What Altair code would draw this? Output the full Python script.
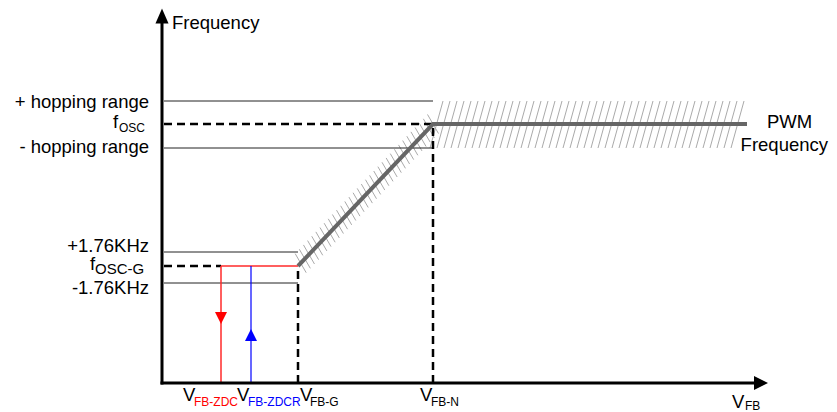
import altair as alt
import pandas as pd
import numpy as np

# ---------------- diagram values (origin = corner of the two axes) ----------------
# V_FB positions (horizontal axis)
v_fb_zdc = 59
v_fb_zdcr = 89
v_fb_g = 136
v_fb_n = 271
v_pwm_end = 585
v_axis_end = 599          # centre of the x-axis arrow head

# Frequency levels (vertical axis)
f_hop_plus = 282
f_osc = 259
f_hop_minus = 235
f_g_plus = 131
f_osc_g = 117
f_g_minus = 100
f_axis_end = 367          # centre of the y-axis arrow head

# direction arrows on the red / blue lines
red_arrow_f = 65
blue_arrow_f = 48

# main labels
main_text = ["Frequency", "+ hopping range", "- hopping range", "+1.76KHz", "-1.76KHz",
             "f", "f", "PWM", "Frequency",
             "V", "V", "V", "V", "V"]
main_x = [10, -13, -13, -13, -13, -49, -72, 605, 666, 21, 75, 138, 258, 570]
main_y = [360, 281, 236, 137, 95, 261, 119, 261, 238, -12, -12, -12, -12, -19]
main_align = ["left", "right", "right", "right", "right", "left", "left", "left", "right",
              "left", "left", "left", "left", "left"]
main_color = ["#000000"] * 14

# subscripts
sub_text = ["OSC", "OSC-G", "FB-ZDC", "FB-ZDCR", "FB-G", "FB-N", "FB"]
sub_x = [-43, -67, 32, 86, 148, 269, 583]
sub_y = [255, 114, -19, -19, -19, -19, -23]
sub_size = [12, 15, 12, 12, 12, 12, 12]
sub_color = ["#000000", "#000000", "#ff0000", "#0000ff", "#000000", "#000000", "#000000"]

# ---------------- scales: 1 unit = 1 px ----------------
W, H = 821, 404
xs = alt.Scale(domain=[-154, 667], nice=False, zero=False)
ys = alt.Scale(domain=[-29, 375], nice=False, zero=False)


def rules(rows, **mark):
    df = pd.DataFrame(rows, columns=["x", "y", "x2", "y2"])
    return alt.Chart(df).mark_rule(**mark).encode(
        x=alt.X("x:Q", scale=xs, axis=None),
        y=alt.Y("y:Q", scale=ys, axis=None),
        x2="x2:Q", y2="y2:Q")


thin = rules([
    (2, f_hop_plus, v_fb_n, f_hop_plus),
    (2, f_hop_minus, v_fb_n, f_hop_minus),
    (2, f_g_plus, v_fb_g, f_g_plus),
    (2, f_g_minus, v_fb_g, f_g_minus),
], color="#222222", strokeWidth=1)

dashed = rules([
    (2, f_osc, v_fb_n, f_osc),
    (2, f_osc_g, v_fb_zdc, f_osc_g),
    (v_fb_g, 0, v_fb_g, f_osc_g),
    (v_fb_n, 0, v_fb_n, f_osc),
], color="#000000", strokeWidth=2.5, strokeDash=[8, 5])

red = rules([
    (v_fb_zdc, f_osc_g, v_fb_g, f_osc_g),
    (v_fb_zdc, 0, v_fb_zdc, f_osc_g),
], color="#ff2a2a", strokeWidth=1.5)

blue = rules([(v_fb_zdcr, 0, v_fb_zdcr, f_osc_g)], color="#0000ff", strokeWidth=1.2)

# hatch texture around the PWM-frequency curve
hx = np.arange(v_fb_n - 3, v_pwm_end - 10, 7)
hatch_rows = [(b, f_hop_minus, b + 13, f_hop_plus) for b in hx]
n_diag = 33
for t in np.linspace(0.02, 1.0, n_diag):
    cx = v_fb_g + t * (v_fb_n - v_fb_g)
    cy = f_osc_g + t * (f_osc - f_osc_g)
    hatch_rows.append((cx - 11 * 0.5, cy + 11 * 0.866, cx + 11 * 0.5, cy - 11 * 0.866))
hatch = rules(hatch_rows, color="#aaaaaa", strokeWidth=1)

axes = rules([
    (0, -1.5, 0, f_axis_end),
    (-1.5, 0, v_axis_end, 0),
], color="#000000", strokeWidth=3)

curve_df = pd.DataFrame({"x": [v_fb_g, v_fb_n, v_pwm_end],
                         "y": [f_osc_g, f_osc, f_osc],
                         "o": [0, 1, 2]})
curve = alt.Chart(curve_df).mark_line(color="#666666", strokeWidth=4).encode(
    x=alt.X("x:Q", scale=xs, axis=None),
    y=alt.Y("y:Q", scale=ys, axis=None),
    order="o:Q")


def head(x, y, shape, size, color):
    df = pd.DataFrame({"x": [x], "y": [y]})
    return alt.Chart(df).mark_point(shape=shape, size=size, filled=True, opacity=1,
                                    color=color, strokeWidth=0).encode(
        x=alt.X("x:Q", scale=xs, axis=None),
        y=alt.Y("y:Q", scale=ys, axis=None))


heads = [
    head(0, f_axis_end, "M0,-1L0.87,1L-0.87,1Z", 225, "#000000"),
    head(v_axis_end, 0, "M1,0L-1,-1L-1,1Z", 196, "#000000"),
    head(v_fb_zdc, red_arrow_f, "M-1,-1L1,-1L0,1Z", 144, "#ff0000"),
    head(v_fb_zdcr, blue_arrow_f, "M0,-1L1,1L-1,1Z", 144, "#0000ff"),
]

main_df = pd.DataFrame({"t": main_text, "x": main_x, "y": main_y,
                        "a": main_align, "c": main_color})
sub_df = pd.DataFrame({"t": sub_text, "x": sub_x, "y": sub_y,
                       "s": sub_size, "c": sub_color})


def texts(df, align, size=None):
    enc = dict(x=alt.X("x:Q", scale=xs, axis=None),
               y=alt.Y("y:Q", scale=ys, axis=None),
               text="t:N",
               color=alt.Color("c:N", scale=None))
    if size is None:
        enc["size"] = alt.Size("s:Q", scale=None)
        mk = alt.Chart(df).mark_text(font="Liberation Sans", align=align, baseline="middle")
    else:
        mk = alt.Chart(df).mark_text(font="Liberation Sans", align=align,
                                     baseline="middle", fontSize=size)
    return mk.encode(**enc)


txt_left = texts(main_df[main_df.a == "left"], "left", 18.5)
txt_right = texts(main_df[main_df.a == "right"], "right", 18.5)
txt_sub = texts(sub_df, "left")

chart = alt.layer(hatch, thin, dashed, red, blue, curve, axes, *heads,
                  txt_left, txt_right, txt_sub).properties(
    width=W, height=H, padding=0,
    autosize=alt.AutoSizeParams(type="none"),
    background="white",
).configure_view(stroke=None)

chart.save("out.html", embed_options={"renderer": "svg", "actions": False})
